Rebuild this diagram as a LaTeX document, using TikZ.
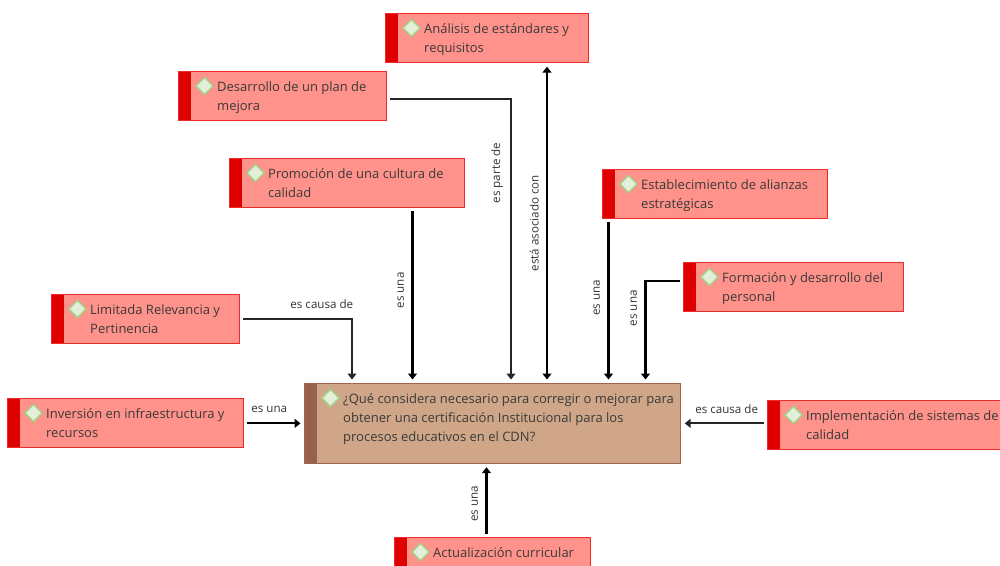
\documentclass[tikz,border=0pt]{standalone}
\usepackage{fontspec}
\setmainfont{Open Sans}
\usetikzlibrary{positioning,shapes.geometric,arrows.meta}
\definecolor{causefill}{HTML}{FF928A}
\definecolor{causeline}{HTML}{EE2B2B}
\definecolor{causebar}{HTML}{DF0000}
\definecolor{topicfill}{HTML}{CFA788}
\definecolor{topicline}{HTML}{A0654F}
\definecolor{topicbar}{HTML}{96624E}
\definecolor{markfill}{HTML}{E2F0D9}
\definecolor{markline}{HTML}{A5CF86}
\definecolor{boxtextcolor}{HTML}{3A3A3A}
\tikzset{
    conceptbox/.style 2 args={draw=#1,line width=1.2pt,minimum height=49pt,anchor=north west,inner sep=0pt,
        path picture={\fill[#2] (path picture bounding box.north west) rectangle ([xshift=12pt]path picture bounding box.south west);}},
    boxtext/.style={text=boxtextcolor,align=left,inner sep=0pt,font=\fontsize{13}{19}\selectfont},
    markdiamond/.style={diamond,draw=markline,fill=markfill,line width=1.4pt,minimum size=18pt,inner sep=0pt},
    heavyarrow/.style={-{Triangle[width=9pt,length=6pt]},line width=2.2pt,black,shorten >=3.5pt,shorten <=3pt},
    thinarrow/.style={-{Triangle[width=9pt,length=6pt]},line width=1.3pt,black!85,shorten >=3.5pt,shorten <=3pt},
    rellabel/.style={text=black!80,inner sep=4pt,font=\fontsize{11.6}{13}\selectfont},
    vlabel/.style={rellabel,rotate=90,anchor=south,inner sep=7.5pt}
}
\begin{document}
\begin{tikzpicture}[x=1pt,y=-1pt]
    \clip (0,0) rectangle (1000,565);
    \node[conceptbox={topicline}{topicbar},fill=topicfill,minimum width=376pt,minimum height=79.5pt] (central) at (304,383) {};
    \node[boxtext,below right=10pt and 39pt of central.north west] (centralText) {¿Qué considera necesario para corregir o mejorar para\\obtener una certificación Institucional para los\\procesos educativos en el CDN?};
    \node[markdiamond] (centralMark) at ([xshift=26.5pt,yshift=-15pt]central.north west) {};
    \foreach \name/\x/\y/\w/\label in {
        analisis/385/13/203/{Análisis de estándares y\\requisitos},
        desarrollo/178/71/208/{Desarrollo de un plan de\\mejora},
        promocion/229/158/235/{Promoción de una cultura de\\calidad},
        alianzas/602/169/225/{Establecimiento de alianzas\\estratégicas},
        formacion/683/262/220/{Formación y desarrollo del\\personal},
        limitada/51/294/188/{Limitada Relevancia y\\Pertinencia},
        inversion/7/398/236/{Inversión en infraestructura y\\recursos},
        implementacion/767/400/250/{Implementación de sistemas de\\calidad},
        actualizacion/394/537/196/{Actualización curricular}} {
        \node[conceptbox={causeline}{causebar},fill=causefill,minimum width=\w pt] (\name) at (\x,\y) {};
        \node[boxtext,below right=10pt and 39pt of \name.north west] (\name Text) {\label};
        \node[markdiamond] (\name Mark) at ([xshift=26.5pt,yshift=-15pt]\name.north west) {};
    }
    \coordinate (inLimitada) at ([xshift=48pt]central.north west);
    \coordinate (inPromocion) at ([xshift=108.5pt]central.north west);
    \coordinate (inDesarrollo) at ([xshift=207pt]central.north west);
    \coordinate (inAnalisis) at ([xshift=243pt]central.north west);
    \coordinate (inAlianzas) at ([xshift=304.5pt]central.north west);
    \coordinate (inFormacion) at ([xshift=341.5pt]central.north west);
    \coordinate (inActualizacion) at ([xshift=182.5pt]central.south west);
    \coordinate (bendLimitada) at (inLimitada |- limitada.east);
    \coordinate (outDesarrollo) at ([yshift=-3pt]desarrollo.east);
    \coordinate (bendDesarrollo) at (inDesarrollo |- outDesarrollo);
    \coordinate (outFormacion) at ([yshift=6.5pt]formacion.west);
    \coordinate (bendFormacion) at (inFormacion |- outFormacion);
    \draw[thinarrow] (limitada.east) -- node[rellabel,above,pos=.73,yshift=6pt] (labelLimitada) {es causa de} (bendLimitada) -- (inLimitada);
    \draw[heavyarrow] (inPromocion |- promocion.south) -- node[vlabel,pos=.47] (labelPromocion) {es una} (inPromocion);
    \draw[thinarrow] (outDesarrollo) -- (bendDesarrollo) -- node[vlabel,pos=.26] (labelDesarrollo) {es parte de} (inDesarrollo);
    \draw[{Triangle[width=9pt,length=6pt]}-{Triangle[width=9pt,length=6pt]},line width=1.4pt,black,shorten >=3.5pt,shorten <=3.5pt] (inAnalisis) -- node[vlabel,pos=.5] (labelAnalisis) {está asociado con} (inAnalisis |- analisis.south);
    \draw[heavyarrow] (inAlianzas |- alianzas.south) -- node[vlabel,pos=.48] (labelAlianzas) {es una} (inAlianzas);
    \draw[heavyarrow] (outFormacion) -- (bendFormacion) -- node[vlabel,pos=.27] (labelFormacion) {es una} (inFormacion);
    \draw[heavyarrow] (inversion.east |- central.west) -- node[rellabel,above,pos=.42,yshift=6pt] (labelInversion) {es una} (central.west);
    \draw[thinarrow,line width=1.8pt] (implementacion.west |- central.east) -- node[rellabel,above,pos=.47,yshift=5pt] (labelImplementacion) {es causa de} (central.east);
    \draw[heavyarrow] (inActualizacion |- actualizacion.north) -- node[vlabel,pos=.45] (labelActualizacion) {es una} (inActualizacion);
\end{tikzpicture}
\end{document}
